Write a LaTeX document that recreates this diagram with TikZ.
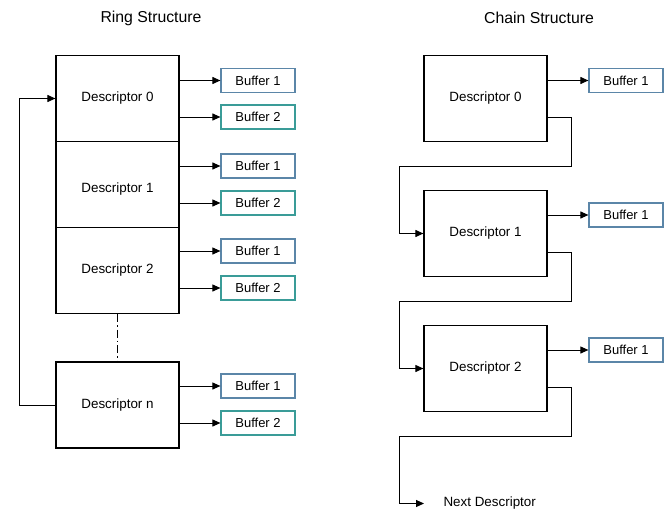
\documentclass[tikz,border=0pt]{standalone}
\usepackage{fontspec}
\setmainfont{Liberation Sans}
\usetikzlibrary{arrows.meta}
\definecolor{bufblue}{HTML}{5B86A8}
\definecolor{bufteal}{HTML}{3A9C98}
\begin{document}
\begin{tikzpicture}[x=1pt,y=-1pt,
  desc/.style={draw=black,line width=1.2pt,minimum width=123pt,minimum height=86pt,inner sep=0pt,font=\fontsize{13.4}{16}\selectfont},
  bufa/.style={draw=bufblue,line width=1.2pt,minimum width=74pt,minimum height=24pt,inner sep=0pt,font=\fontsize{13}{15}\selectfont},
  bufb/.style={bufa,draw=bufteal},
  title/.style={font=\fontsize{15.8}{18}\selectfont},
  link/.style={line width=1pt,-{Triangle[length=8pt,width=7pt]}},
  wire/.style={line width=1pt}]
\useasboundingbox (0,0) rectangle (672,519);
% titles
\node[title] (t1) at (151,18) {Ring Structure};
\node[title] (t2) at (539,18) {Chain Structure};
% Ring structure
\node[desc] (r0) at (117.5,98.5) {Descriptor 0};
\node[desc,label={[font=\fontsize{13.4}{16}\selectfont,yshift=-5pt]center:Descriptor 1}] (r1) at (117.5,184.5) {};
\node[desc] (r2) at (117.5,270.5) {Descriptor 2};
\node[desc] (rn) at (117.5,405) {Descriptor n};
\node[bufa] (r0a) at (258,80.5) {Buffer 1};
\node[bufb] (r0b) at (258,117) {Buffer 2};
\node[bufa] (r1a) at (258,166) {Buffer 1};
\node[bufb] (r1b) at (258,203) {Buffer 2};
\node[bufa] (r2a) at (258,251) {Buffer 1};
\node[bufb] (r2b) at (258,288) {Buffer 2};
\node[bufa] (rna) at (258,386) {Buffer 1};
\node[bufb] (rnb) at (258,423) {Buffer 2};
\foreach \d/\a/\b in {r0/r0a/r0b,r1/r1a/r1b,r2/r2a/r2b,rn/rna/rnb}{
  \draw[link] (\d.east |- \a.west) -- (\a.west);
  \draw[link] (\d.east |- \b.west) -- (\b.west);
}
\draw[line width=1pt,dash pattern=on 8pt off 3pt on 1.5pt off 3pt] (r2.south) -- (rn.north);
\coordinate (lp1) at (19.5,405);
\coordinate (lp2) at (19.5,98.5);
\draw[link] (rn.west) -- (lp1) -- (lp2) -- (r0.west);
% Chain structure
\node[desc] (c0) at (485.5,98.5) {Descriptor 0};
\node[desc] (c1) at (485.5,233.5) {Descriptor 1};
\node[desc] (c2) at (485.5,368.5) {Descriptor 2};
\node[bufa] (c0a) at (626,80.5) {Buffer 1};
\node[bufa] (c1a) at (626,215) {Buffer 1};
\node[bufa] (c2a) at (626,350) {Buffer 1};
\draw[link] (c0.east |- c0a.west) -- (c0a.west);
\draw[link] (c1.east |- c1a.west) -- (c1a.west);
\draw[link] (c2.east |- c2a.west) -- (c2a.west);
\coordinate (a0) at (424,117);
\coordinate (a1) at (424,252);
\coordinate (a2) at (424,387);
\draw[link] (c0.east |- a0) -| (571.5,166.5) -| (399.5,233.5) -- (c1.west);
\draw[link] (c1.east |- a1) -| (571.5,301) -| (399.5,368.5) -- (c2.west);
\node[anchor=west,font=\fontsize{13.4}{16}\selectfont] (nx) at (440,503.5) {Next Descriptor};
\coordinate (nxa) at (424,503.5);
\draw[link] (c2.east |- a2) -| (571.5,436) -| (399.5,503.5) -- (nxa);
\end{tikzpicture}
\end{document}
